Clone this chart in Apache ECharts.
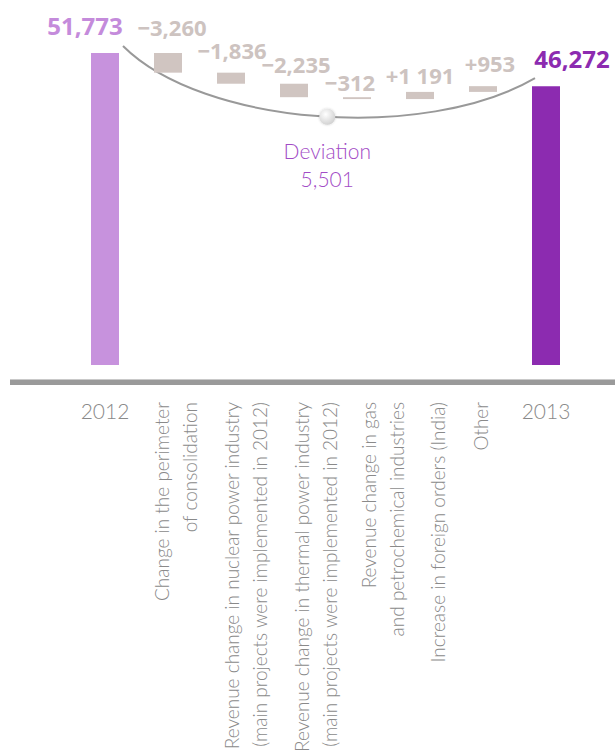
<!DOCTYPE html>
<html>
<head>
<meta charset="utf-8">
<script src="https://cdn.jsdelivr.net/npm/echarts@6/dist/echarts.min.js"></script>
<style>
html, body { margin: 0; padding: 0; background: #fff; }
#main { width: 615px; height: 756px; }
</style>
</head>
<body>
<div id="main"></div>
<script>
// revenue bridge 2012 -> 2013 (waterfall)
var categories = [
    '2012',
    'Change in the perimeter\nof consolidation',
    'Revenue change in nuclear power industry\n(main projects were implemented in 2012)',
    'Revenue change in thermal power industry\n(main projects were implemented in 2012)',
    'Revenue change in gas\nand petrochemical industries',
    'Increase in foreign orders (India)',
    'Other',
    '2013'
];
var startValue = 51773;
var endValue = 46272;
var changes = [-3260, -1836, -2235, -312, 1191, 953];
var valueLabels = ['51,773', '−3,260', '−1,836', '−2,235', '−312', '+1 191', '+953', '46,272'];
var deviationText = ['Deviation', '5,501'];

// build invisible base + visible part
var base = [0], height = [startValue], level = startValue;
changes.forEach(function (c) {
    if (c < 0) {
        base.push(level + c);
        height.push(-c);
    } else {
        base.push(level);
        height.push(c);
    }
    level += c;
});
base.push(0);
height.push(endValue);

var last = categories.length - 1;
var barColors = categories.map(function (c, i) {
    if (i == 0) return '#c792dd';
    if (i == last) return '#8c2bb0';
    return '#d0c5c1';
});
var labelColors = categories.map(function (c, i) {
    if (i == 0) return '#c48bdb';
    if (i == last) return '#8c2bb0';
    return '#cdc3c0';
});
// label tweaks (dx, gap above bar)
var labelDx = [-20, 4, 1, 2, -7, 0, 7, 26];
var labelGap = [16, 15, 12, 9, 4, 6, 12, 16];
// the rotated labels sit a bit right of their bars
var axisShift = [0, 7, 14, 21, 25, 17, -3, 0];

var chart = echarts.init(document.getElementById('main'), null, { renderer: 'svg' });

var option = {
    animation: false,
    grid: {
        left: 73.5,
        right: 37.5,
        top: 39.6,
        bottom: 391
    },
    xAxis: {
        type: 'category',
        data: categories,
        axisLine: { show: false },
        axisTick: { show: false },
        axisLabel: {
            interval: 0,
            margin: 35,
            fontFamily: 'Lato',
            fontWeight: 300,
            fontSize: 21,
            color: '#8a8a8a',
            formatter: function (v, i) {
                return (i == 0 || i == last) ? v : '';
            }
        }
    },
    yAxis: {
        type: 'value',
        min: 0,
        max: 54000,
        show: false
    },
    series: [{
        type: 'bar',
        stack: 'w',
        barWidth: 28,
        silent: true,
        itemStyle: { color: 'transparent' },
        data: base
    }, {
        type: 'bar',
        stack: 'w',
        barWidth: 28,
        data: height.map(function (h, i) {
            var total = (i == 0 || i == last);
            return {
                value: h,
                itemStyle: { color: barColors[i] },
                label: {
                    show: true,
                    position: 'top',
                    distance: labelGap[i],
                    offset: [labelDx[i], 0],
                    formatter: valueLabels[i],
                    color: labelColors[i],
                    fontFamily: 'Open Sans',
                    fontWeight: 'bold',
                    fontSize: total ? 24 : 22
                }
            };
        })
    }]
};
chart.setOption(option);

// arc between the two totals, with the deviation marker
var pA = chart.convertToPixel({ gridIndex: 0 }, [0, startValue]);
var pB = chart.convertToPixel({ gridIndex: 0 }, [last, level]);
var pZero = chart.convertToPixel({ gridIndex: 0 }, [0, 0]);
var x1 = pA[0] + 18, y1 = pA[1] - 7;
var x2 = pB[0] - 11, y2 = pB[1] - 8;
var c1x = x1 + 80, c1y = y1 + 80;
var c2x = x2 - 110, c2y = y2 + 64;
function bez(t, a, b, c, d) {
    var u = 1 - t;
    return u * u * u * a + 3 * u * u * t * b + 3 * u * t * t * c + t * t * t * d;
}
var dotX = bez(0.52, x1, c1x, c2x, x2);
var dotY = bez(0.52, y1, c1y, c2y, y2);

var graphics = [{
    type: 'rect',
    shape: { x: 10, y: pZero[1] + 15, width: 605, height: 5 },
    style: { fill: '#9a9a9a' }
}, {
    type: 'rect',
    shape: { x: 10, y: pZero[1] + 14, width: 605, height: 1 },
    style: { fill: '#c9c9c9' }
}, {
    type: 'bezierCurve',
    shape: { x1: x1, y1: y1, x2: x2, y2: y2, cpx1: c1x, cpy1: c1y, cpx2: c2x, cpy2: c2y },
    style: { stroke: '#999999', lineWidth: 2, fill: null }
}, {
    type: 'circle',
    shape: { cx: dotX, cy: dotY, r: 8 },
    style: {
        fill: new echarts.graphic.RadialGradient(0.4, 0.35, 0.75, [
            { offset: 0, color: '#ffffff' },
            { offset: 1, color: '#cccccc' }
        ]),
        shadowBlur: 2,
        shadowColor: 'rgba(0,0,0,0.2)'
    }
}, {
    type: 'text',
    x: dotX,
    y: dotY + 20,
    style: {
        text: deviationText.join('\n'),
        align: 'center',
        verticalAlign: 'top',
        font: '300 21px Lato',
        lineHeight: 28,
        fill: '#a24cc6'
    }
}];

// vertical category names under the change bars
for (var i = 1; i < last; i++) {
    var p = chart.convertToPixel({ gridIndex: 0 }, [i, 0]);
    graphics.push({
        type: 'text',
        x: p[0] + axisShift[i],
        y: p[1] + 37,
        rotation: Math.PI / 2,
        style: {
            text: categories[i],
            align: 'right',
            verticalAlign: 'middle',
            font: '300 19px Lato',
            lineHeight: 28,
            fill: '#8a8a8a'
        }
    });
}

chart.setOption({ graphic: graphics });
</script>
</body>
</html>
